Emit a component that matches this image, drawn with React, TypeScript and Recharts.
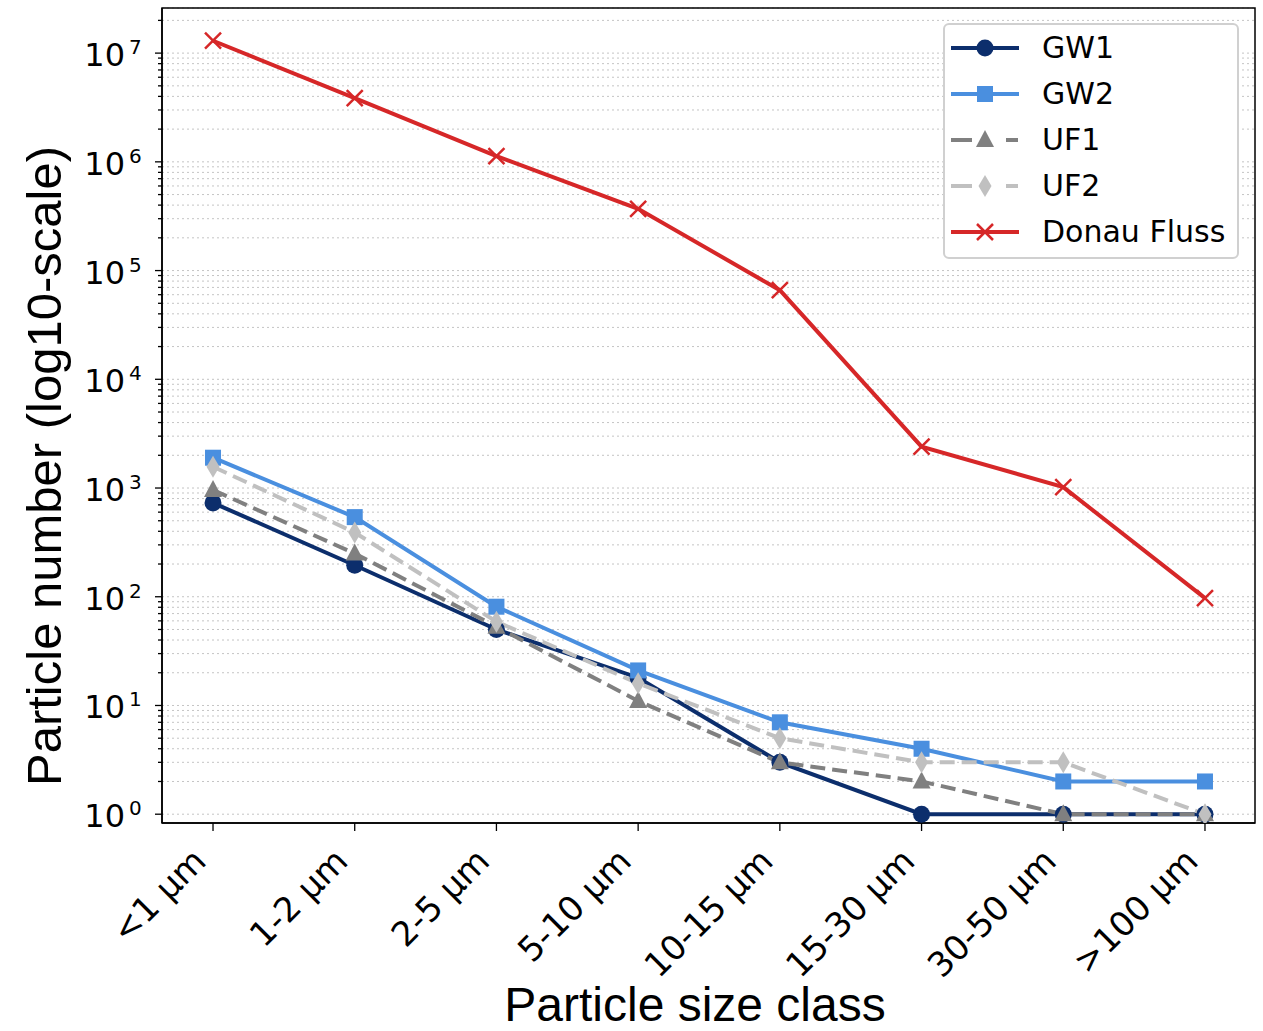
import {
  LineChart,
  Line,
  XAxis,
  YAxis,
  CartesianGrid,
  ReferenceArea,
  Legend,
  Label,
} from "recharts";

// particle size classes (x axis)
const sizeClasses = [
  "<1 µm",
  "1-2 µm",
  "2-5 µm",
  "5-10 µm",
  "10-15 µm",
  "15-30 µm",
  "30-50 µm",
  ">100 µm",
];

// particle counts
const gw1 = [730, 195, 50, 18, 3, 1, 1, 1];
const gw2 = [1900, 540, 81, 21, 7, 4, 2, 2];
const uf1 = [960, 250, 53, 11, 3, 2, 1, 1];
const uf2 = [1570, 390, 59, 16, 5, 3, 3, 1];
const donau = [13000000, 3850000, 1130000, 370000, 66000, 2400, 1020, 97];

// axes
const xDomain = [-0.36, 7.353];
const xTicks = sizeClasses.map((_, i) => i);
const yDomain = [0.83, 26000000];
const decades = [1, 10, 100, 1000, 10000, 100000, 1000000, 10000000];
const minorSteps = [1, 2, 3, 4, 5, 6, 7, 8, 9];
const yTicks = decades
  .flatMap((d) => minorSteps.map((m) => m * d))
  .filter((v) => v <= yDomain[1]);

const data = sizeClasses.map((c, i) => ({
  idx: i,
  size: c,
  gw1: gw1[i],
  gw2: gw2[i],
  uf1: uf1[i],
  uf2: uf2[i],
  donau: donau[i],
}));

type MarkerKind = "circle" | "square" | "triangle" | "diamond" | "x";

const series: {
  key: string;
  name: string;
  color: string;
  dash?: string;
  marker: MarkerKind;
}[] = [
  { key: "gw1", name: "GW1", color: "#0c2e6c", marker: "circle" },
  { key: "gw2", name: "GW2", color: "#4a8fdf", marker: "square" },
  { key: "uf1", name: "UF1", color: "#808080", dash: "15 7", marker: "triangle" },
  { key: "uf2", name: "UF2", color: "#c0c0c0", dash: "15 7", marker: "diamond" },
  { key: "donau", name: "Donau Fluss", color: "#d62728", marker: "x" },
];

function Marker({ kind, cx, cy, color }: { kind: MarkerKind; cx: number; cy: number; color: string }) {
  switch (kind) {
    case "circle":
      return <circle cx={cx} cy={cy} r={8.5} fill={color} />;
    case "square":
      return <rect x={cx - 8} y={cy - 8} width={16} height={16} fill={color} />;
    case "triangle":
      return (
        <polygon
          points={`${cx},${cy - 10} ${cx + 9},${cy + 7} ${cx - 9},${cy + 7}`}
          fill={color}
        />
      );
    case "diamond":
      return (
        <polygon
          points={`${cx},${cy - 11} ${cx + 6.5},${cy} ${cx},${cy + 11} ${cx - 6.5},${cy}`}
          fill={color}
        />
      );
    default:
      return (
        <path
          d={`M${cx - 8},${cy - 8}L${cx + 8},${cy + 8}M${cx - 8},${cy + 8}L${cx + 8},${cy - 8}`}
          stroke={color}
          strokeWidth={2.5}
          fill="none"
        />
      );
  }
}

const makeDot = (kind: MarkerKind, color: string) => (props: any) => {
  const { cx, cy, index } = props;
  if (cx == null || cy == null) return <g key={`d${index}`} />;
  return (
    <g key={`d${index}`}>
      <Marker kind={kind} cx={cx} cy={cy} color={color} />
    </g>
  );
};

const YTick = (props: any) => {
  const { x, y, payload } = props;
  const v = payload.value;
  const major = decades.includes(v);
  const exp = Math.round(Math.log10(v));
  return (
    <g>
      <line x1={x - (major ? 7 : 4)} x2={x} y1={y} y2={y} stroke="#000" strokeWidth={1.3} />
      {major && (
        <g fontFamily="DejaVu Sans" fill="#000">
          <text x={x - 37} y={y + 13} textAnchor="end" fontSize={32}>
            10
          </text>
          <text x={x - 33} y={y + 1} textAnchor="start" fontSize={20}>
            {exp}
          </text>
        </g>
      )}
    </g>
  );
};

const XTick = (props: any) => {
  const { x, y, payload } = props;
  const ax = x - 5;
  const ay = y + 30;
  return (
    <text
      x={ax}
      y={ay}
      transform={`rotate(-45, ${ax}, ${ay})`}
      textAnchor="end"
      fontFamily="DejaVu Sans"
      fontSize={34}
      fill="#000"
    >
      {sizeClasses[payload.value]}
    </text>
  );
};

const LegendBox = () => (
  <div
    style={{
      width: 296,
      height: 236,
      boxSizing: "border-box",
      border: "2px solid #d0d0d0",
      borderRadius: 6,
      background: "#fff",
    }}
  >
    {series.map((s) => (
      <div key={s.key} style={{ height: 46, display: "flex", alignItems: "center" }}>
        <svg width={68} height={30} style={{ marginLeft: 6, display: "block" }}>
          <line
            x1={0}
            x2={68}
            y1={15}
            y2={15}
            stroke={s.color}
            strokeWidth={4}
            strokeDasharray={s.dash ? "21 34 12" : undefined}
          />
          <Marker kind={s.marker} cx={34} cy={15} color={s.color} />
        </svg>
        <span
          style={{
            marginLeft: 23,
            fontFamily: "DejaVu Sans",
            fontSize: 30,
            color: "#000",
            lineHeight: 1,
          }}
        >
          {s.name}
        </span>
      </div>
    ))}
  </div>
);

export default function App() {
  return (
    <div style={{ position: "absolute", left: 0, top: 0, background: "#fff" }}>
      <LineChart
        width={1263}
        height={1031}
        data={data}
        margin={{ top: 8, right: 8, bottom: 0, left: 0 }}
      >
        <CartesianGrid
          vertical={false}
          stroke="#c4c4c4"
          strokeDasharray="2 3"
          strokeWidth={1}
        />
        <XAxis
          dataKey="idx"
          type="number"
          domain={xDomain}
          allowDataOverflow
          ticks={xTicks}
          interval={0}
          height={208}
          tickSize={8}
          tickLine={{ stroke: "#000", strokeWidth: 1.3 }}
          axisLine={{ stroke: "#000", strokeWidth: 1.5 }}
          tick={<XTick />}
        >
          <Label
            content={() => (
              <text
                x={695}
                y={1021}
                textAnchor="middle"
                fontFamily="Liberation Sans, Arial"
                fontSize={48}
                fill="#000"
              >
                Particle size class
              </text>
            )}
          />
        </XAxis>
        <YAxis
          scale="log"
          type="number"
          domain={yDomain}
          allowDataOverflow
          ticks={yTicks}
          interval={0}
          width={162}
          tickSize={0}
          tickMargin={0}
          tickLine={false}
          axisLine={{ stroke: "#000", strokeWidth: 1.5 }}
          tick={<YTick />}
        >
          <Label
            content={() => (
              <text
                x={61}
                y={466}
                transform="rotate(-90, 61, 466)"
                textAnchor="middle"
                fontFamily="Liberation Sans, Arial"
                fontSize={49}
                fill="#000"
              >
                Particle number (log10-scale)
              </text>
            )}
          />
        </YAxis>
        {series.map((s) => (
          <Line
            key={s.key}
            dataKey={s.key}
            name={s.name}
            type="linear"
            stroke={s.color}
            strokeWidth={4}
            strokeDasharray={s.dash}
            dot={makeDot(s.marker, s.color)}
            activeDot={false}
            isAnimationActive={false}
          />
        ))}
        <ReferenceArea
          x1={xDomain[0]}
          x2={xDomain[1]}
          y1={yDomain[0]}
          y2={yDomain[1]}
          fill="none"
          stroke="#000"
          strokeWidth={1.5}
          ifOverflow="visible"
        />
        <Legend
          content={<LegendBox />}
          layout="vertical"
          align="center"
          verticalAlign="middle"
          wrapperStyle={{ left: 943, top: 23, width: 296, height: 236 }}
        />
      </LineChart>
    </div>
  );
}
